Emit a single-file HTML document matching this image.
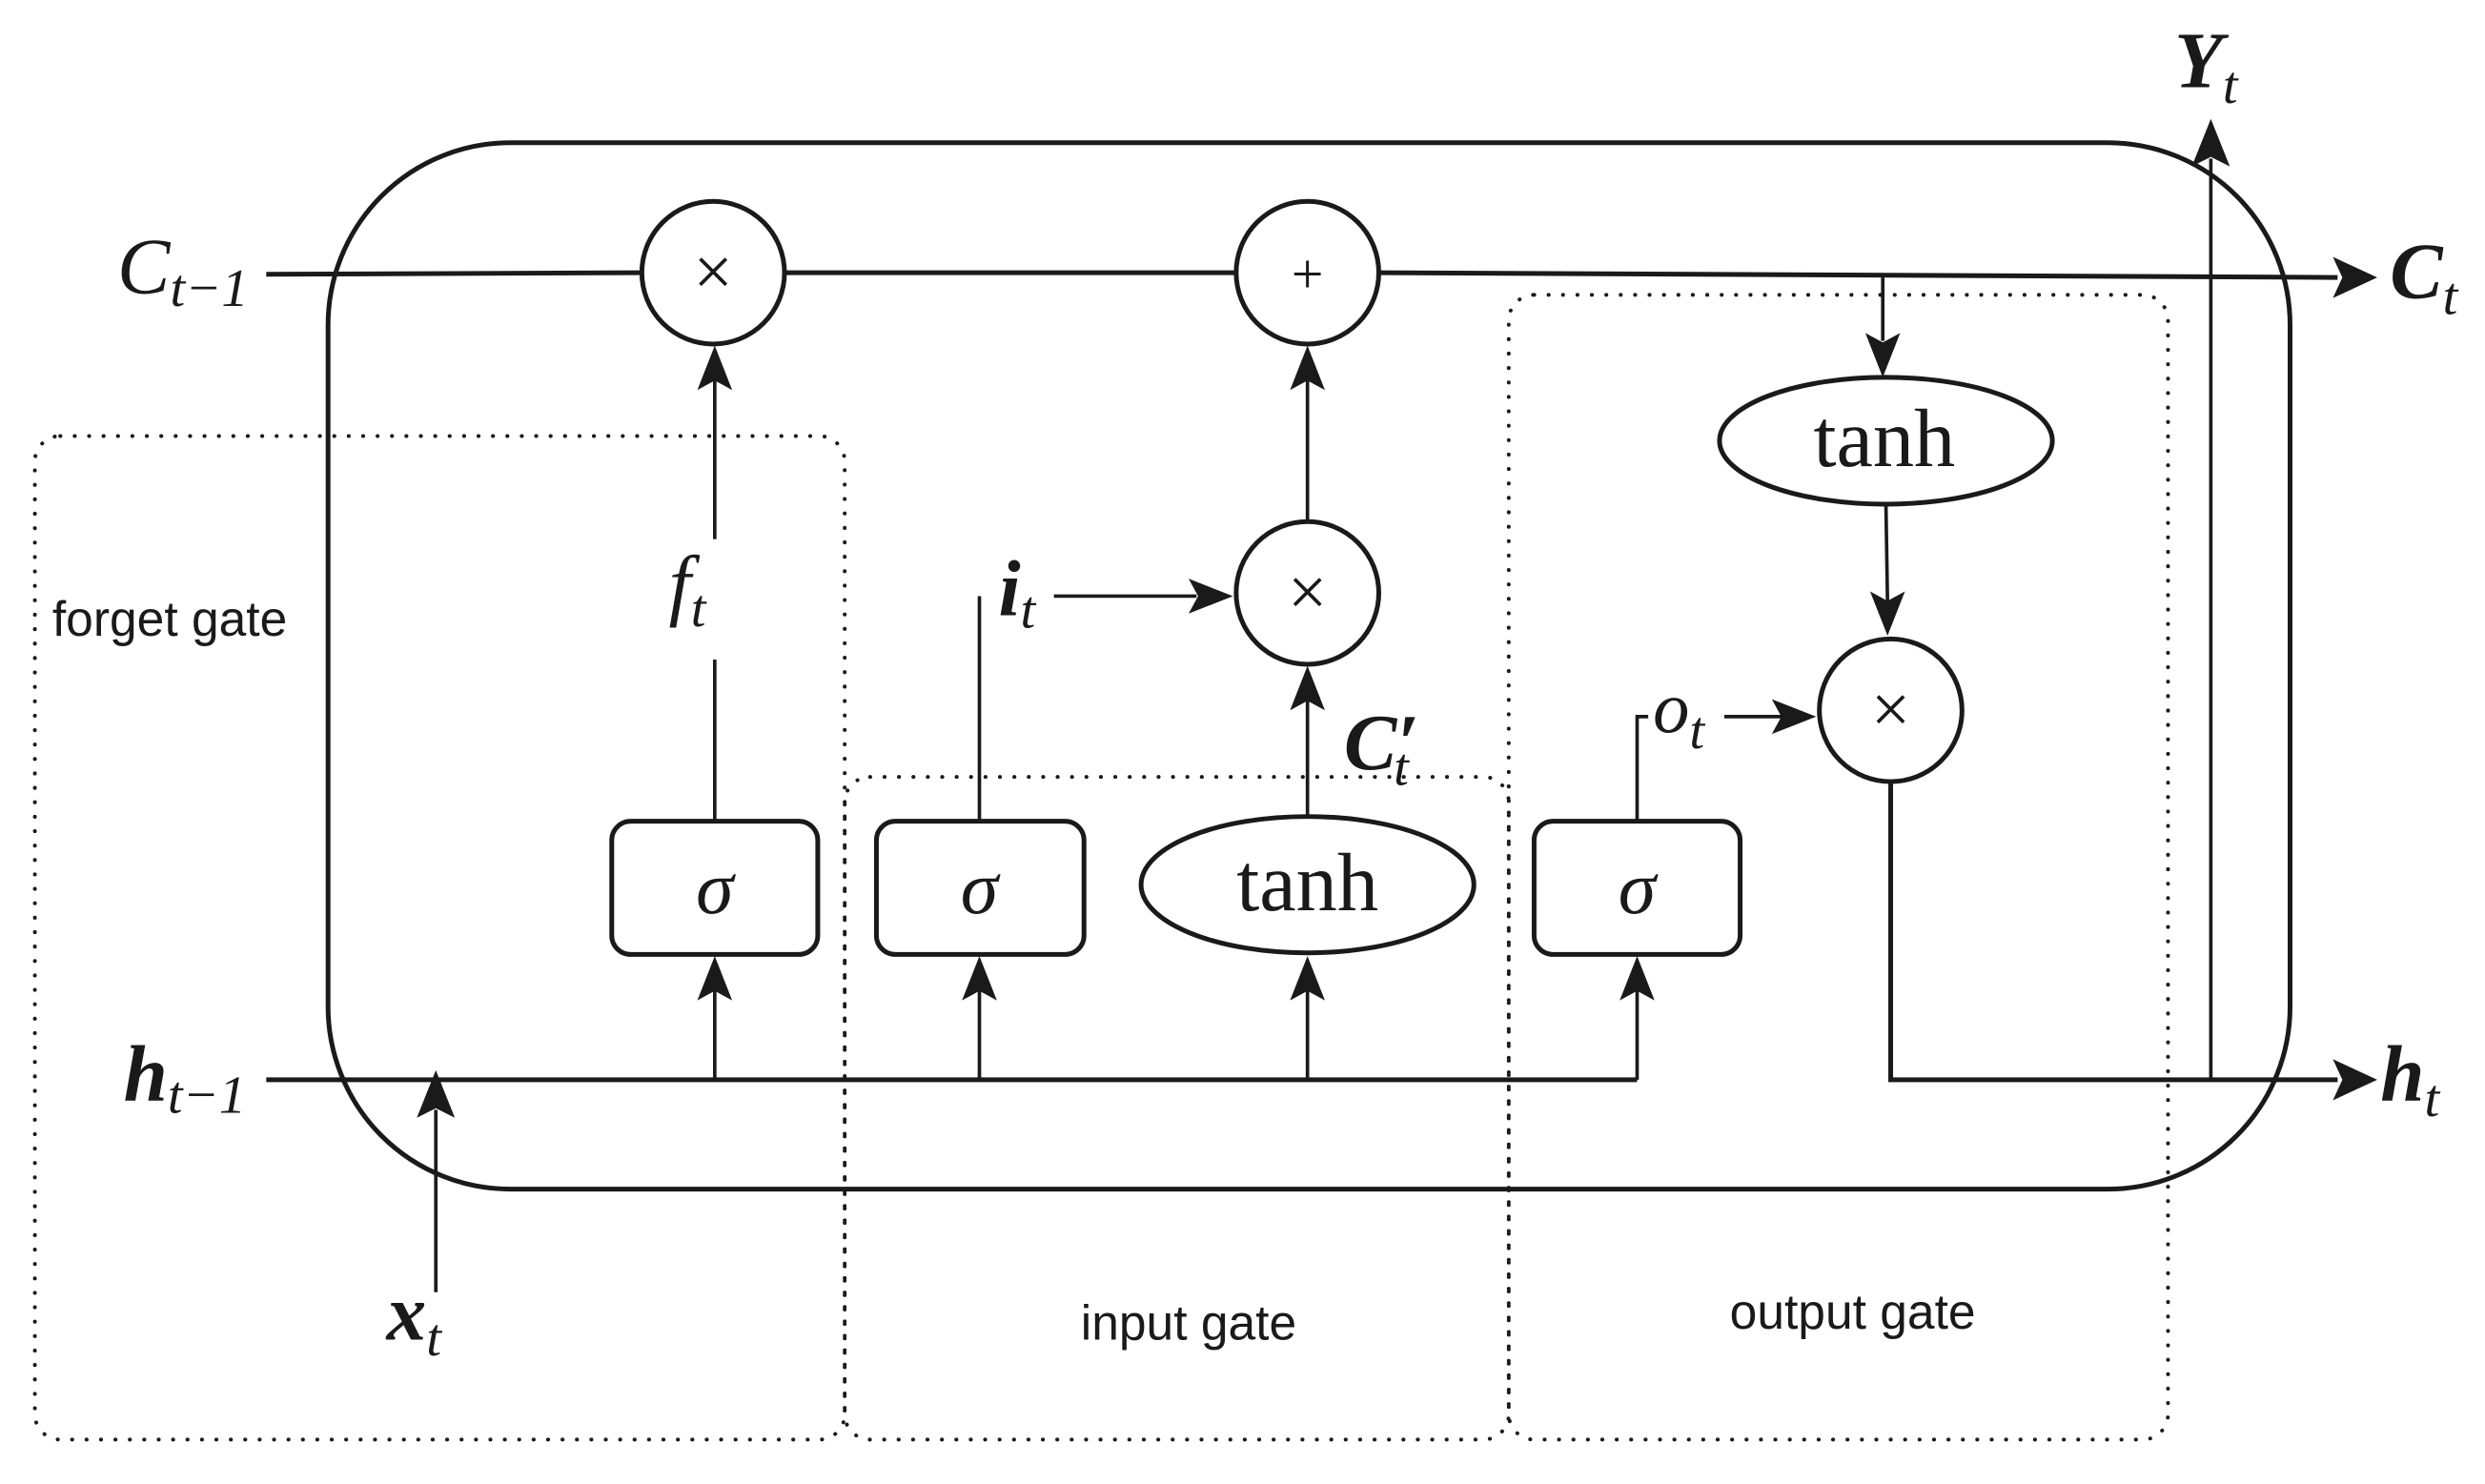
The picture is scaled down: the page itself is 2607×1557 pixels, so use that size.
<!DOCTYPE html>
<html><head><meta charset="utf-8"><style>html,body{margin:0;padding:0;background:#fff}svg{display:block}</style></head>
<body>
<svg width="2607" height="1557" viewBox="0 0 1568 936" preserveAspectRatio="none" xmlns="http://www.w3.org/2000/svg">
<g fill="none" stroke="#1a1a1a">
<g stroke-width="2.4" stroke-dasharray="0.1 9" stroke-linecap="round">
<rect x="22" y="275" width="511" height="633" rx="16"/>
<rect x="533" y="490" width="419" height="418" rx="16"/>
<rect x="952" y="186" width="416" height="722" rx="16"/>
</g>
<rect x="207" y="90" width="1238" height="660" rx="115" stroke-width="3"/>
<g stroke-width="3">
<line x1="168" y1="173" x2="405" y2="172"/>
<line x1="495" y1="172" x2="780" y2="172"/>
<line x1="870" y1="172" x2="1475" y2="175"/>
<line x1="168" y1="681" x2="1033" y2="681"/>
<polyline points="1193,493 1193,681 1475,681"/>
</g>
<g stroke-width="2.2">
<line x1="1395" y1="681" x2="1395" y2="100"/>
<line x1="275" y1="815" x2="275" y2="700"/>
<line x1="451" y1="681" x2="451" y2="625"/>
<line x1="618" y1="681" x2="618" y2="625"/>
<line x1="825" y1="681" x2="825" y2="625"/>
<polyline points="1033,681 1033,625"/>
<line x1="451" y1="518" x2="451" y2="416"/>
<line x1="451" y1="340" x2="451" y2="240"/>
<line x1="618" y1="518" x2="618" y2="376"/>
<line x1="665" y1="376" x2="755" y2="376"/>
<line x1="825" y1="516" x2="825" y2="440"/>
<line x1="825" y1="328" x2="825" y2="240"/>
<polyline points="1033,518 1033,452 1040,452"/>
<line x1="1088" y1="452" x2="1125" y2="452"/>
<line x1="1188" y1="175" x2="1188" y2="215"/>
<line x1="1190" y1="318" x2="1191" y2="380"/>
</g>
<g stroke-width="3">
<circle cx="450" cy="172" r="45"/>
<circle cx="825" cy="172" r="45"/>
<circle cx="825" cy="374" r="45"/>
<circle cx="1193" cy="448" r="45"/>
<rect x="386" y="518" width="130" height="84" rx="12"/>
<rect x="553" y="518" width="131" height="84" rx="12"/>
<rect x="968" y="518" width="130" height="84" rx="12"/>
<ellipse cx="825" cy="558" rx="105" ry="43"/>
<ellipse cx="1190" cy="278" rx="105" ry="40"/>
</g>
</g>
<g fill="#1a1a1a">
<path d="M1500,175 l-28,-13 l6,13 l-6,13z"/>
<path d="M1500,681 l-28,-13 l6,13 l-6,13z"/>
<path d="M1395,75 l-12,30 l12,-6 l12,6z"/>
<path d="M275,675 l-12,30 l12,-6 l12,6z"/>
<path d="M451,603 l-11,28 l11,-6 l11,6z"/>
<path d="M618,603 l-11,28 l11,-6 l11,6z"/>
<path d="M825,603 l-11,28 l11,-6 l11,6z"/>
<path d="M1033,603 l-11,28 l11,-6 l11,6z"/>
<path d="M451,218 l-11,28 l11,-6 l11,6z"/>
<path d="M825,218 l-11,28 l11,-6 l11,6z"/>
<path d="M825,420 l-11,28 l11,-6 l11,6z"/>
<path d="M778,376 l-28,-11 l6,11 l-6,11z"/>
<path d="M1146,452 l-28,-11 l6,11 l-6,11z"/>
<path d="M1188,238 l-11,-28 l11,6 l11,-6z"/>
<path d="M1191,401 l-11,-28 l11,6 l11,-6z"/>
</g>
<g font-family="Liberation Serif, serif" fill="#1a1a1a">
<text x="450" y="186" font-size="44" text-anchor="middle">×</text>
<text x="825" y="185" font-size="36" text-anchor="middle">+</text>
<text x="825" y="388" font-size="44" text-anchor="middle">×</text>
<text x="1193" y="462" font-size="44" text-anchor="middle">×</text>
<text x="451" y="576" font-size="48" font-style="italic" text-anchor="middle">σ</text>
<text x="618" y="576" font-size="48" font-style="italic" text-anchor="middle">σ</text>
<text x="1033" y="576" font-size="48" font-style="italic" text-anchor="middle">σ</text>
<text x="825" y="574" font-size="52" text-anchor="middle">tanh</text>
<text x="1189" y="294" font-size="52" text-anchor="middle">tanh</text>
<text x="74" y="185" font-size="50" font-style="italic">C<tspan font-size="34" dy="8">t−1</tspan></text>
<text x="78" y="694" font-size="50" font-style="italic" font-weight="bold">h<tspan font-size="34" dy="8" font-weight="normal">t−1</tspan></text>
<text x="1508" y="188" font-size="50" font-style="italic" font-weight="bold">C<tspan font-size="34" dy="10" font-weight="normal">t</tspan></text>
<text x="1502" y="694" font-size="50" font-style="italic" font-weight="bold">h<tspan font-size="34" dy="10" font-weight="normal">t</tspan></text>
<text x="1372" y="55" font-size="50" font-style="italic" font-weight="bold">Y<tspan font-size="34" dy="10" font-weight="normal">t</tspan></text>
<text x="244" y="845" font-size="50" font-style="italic" font-weight="bold">x<tspan font-size="34" dy="10" font-weight="normal">t</tspan></text>
<text x="422" y="385" font-size="50" font-style="italic">f<tspan font-size="34" dy="10">t</tspan></text>
<text x="630" y="388" font-size="50" font-style="italic" font-weight="bold">i<tspan font-size="34" dy="8" font-weight="normal">t</tspan></text>
<text x="848" y="485" font-size="50" font-style="italic" font-weight="bold">C′<tspan font-size="34" dy="10" font-weight="normal" dx="-16">t</tspan></text>
<text x="1043" y="462" font-size="46" font-style="italic">o<tspan font-size="34" dy="10">t</tspan></text>
</g>
<g font-family="Liberation Sans, sans-serif" font-size="31" fill="#1a1a1a">
<text x="33" y="401">forget gate</text>
<text x="750" y="845" text-anchor="middle">input gate</text>
<text x="1169" y="838" text-anchor="middle">output gate</text>
</g>
</svg>
</body></html>
